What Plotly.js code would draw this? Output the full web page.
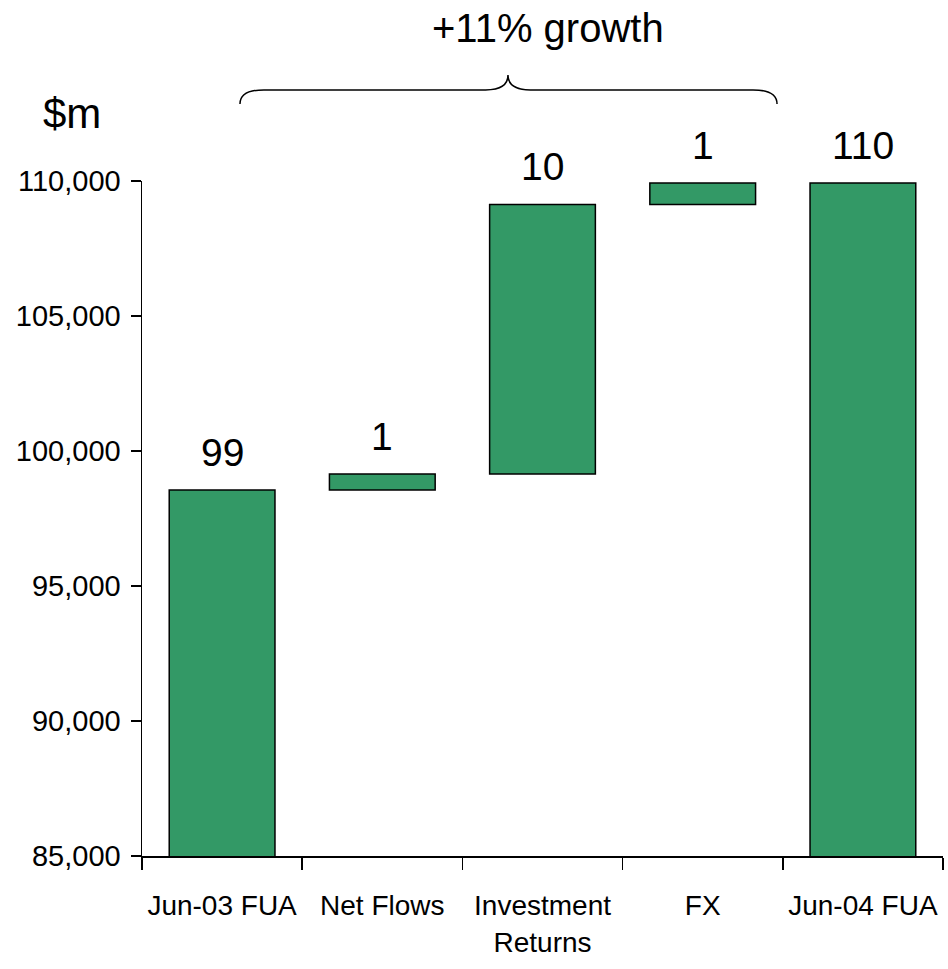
<!DOCTYPE html>
<html>
<head>
<meta charset="utf-8">
<script src="https://cdn.plot.ly/plotly-3.0.1.min.js"></script>
<style>html,body{margin:0;padding:0;background:#fff;}#chart{width:948px;height:969px;}</style>
</head>
<body>
<div id="chart"></div>
<script>
// Data
const categories = ["Jun-03 FUA", "Net Flows", "Investment<br>Returns", "FX", "Jun-04 FUA"];
const measures = ["absolute", "relative", "relative", "relative", "total"];
const values = [98560, 590, 9980, 800, 0];
const labels = ["99", "1", "10", "1", "110"];
const yTicks = [85000, 90000, 95000, 100000, 105000, 110000];

// cumulative tops for labels
const tops = [];
let run = 0;
values.forEach((v, i) => {
  if (measures[i] === "absolute") run = v;
  else if (measures[i] === "relative") run += v;
  tops.push(run);
});

const green = "#339966";
const font = "Arial, 'Liberation Sans', sans-serif";

const trace = {
  type: "waterfall",
  x: categories,
  y: values,
  measure: measures,
  width: 0.66,
  connector: {visible: false},
  increasing: {marker: {color: green, line: {color: "#000", width: 1.5}}},
  decreasing: {marker: {color: green, line: {color: "#000", width: 1.5}}},
  totals: {marker: {color: green, line: {color: "#000", width: 1.5}}},
  textinfo: "none",
  hoverinfo: "skip",
  showlegend: false
};

const annotations = labels.map((t, i) => ({
  x: categories[i], y: tops[i], xref: "x", yref: "y",
  text: t, showarrow: false, yanchor: "bottom", yshift: 14,
  font: {family: font, size: 39, color: "#000"}
}));
annotations.push({
  xref: "paper", yref: "paper", x: 0.507, y: 1.227,
  text: "+11% growth", showarrow: false, xanchor: "center", yanchor: "middle",
  font: {family: font, size: 40, color: "#000"}
});
annotations.push({
  xref: "paper", yref: "paper", x: -0.087, y: 1.10,
  text: "$m", showarrow: false, xanchor: "center", yanchor: "middle",
  font: {family: font, size: 42, color: "#000"}
});

const bx0 = 0.1223, bx1 = 0.7928, bm = 0.4569;
const yEnd = 1.114, yMid = 1.135, yTip = 1.157;
const bracePath =
  `M ${bx0} ${yEnd} Q ${bx0} ${yMid} ${bx0 + 0.03} ${yMid} ` +
  `L ${bm - 0.028} ${yMid} Q ${bm} ${yMid} ${bm} ${yTip} ` +
  `Q ${bm} ${yMid} ${bm + 0.028} ${yMid} ` +
  `L ${bx1 - 0.03} ${yMid} Q ${bx1} ${yMid} ${bx1} ${yEnd}`;

const layout = {
  width: 948, height: 969,
  margin: {l: 142, r: 5, t: 181, b: 113},
  paper_bgcolor: "#fff", plot_bgcolor: "#fff",
  font: {family: font, color: "#000"},
  hovermode: false,
  xaxis: {
    type: "category",
    showline: true, linecolor: "#000", linewidth: 1.5,
    ticks: "outside", tickson: "boundaries", ticklen: 12, tickwidth: 1.5, tickcolor: "#000",
    tickfont: {family: font, size: 28, color: "#000"},
    tickangle: 0,
    showgrid: false, zeroline: false,
    ticklabelstandoff: 24
  },
  yaxis: {
    range: [85000, 110000],
    tickvals: yTicks,
    tickformat: ",d",
    showline: true, linecolor: "#000", linewidth: 1.5,
    ticks: "outside", ticklen: 10, tickwidth: 1.5, tickcolor: "#000",
    tickfont: {family: font, size: 29, color: "#000"},
    showgrid: false, zeroline: false,
    ticklabelstandoff: 4
  },
  annotations: annotations,
  shapes: [{
    type: "path", xref: "paper", yref: "paper",
    path: bracePath,
    line: {color: "#000", width: 1.5}
  }]
};

Plotly.newPlot("chart", [trace], layout, {displayModeBar: false, staticPlot: true});
</script>
</body>
</html>
